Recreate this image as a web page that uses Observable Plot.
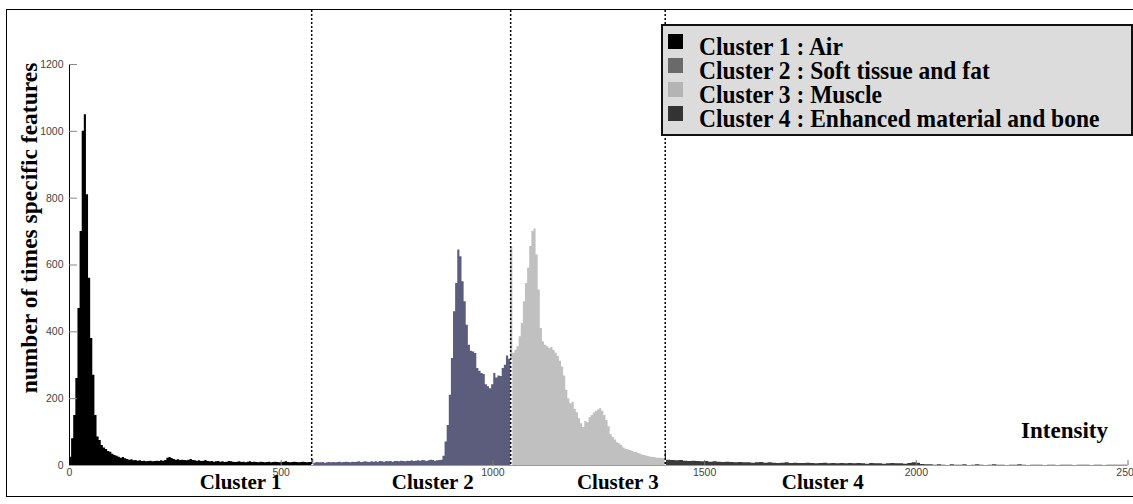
<!DOCTYPE html>
<html><head><meta charset="utf-8">
<script src="https://cdn.jsdelivr.net/npm/d3@7"></script>
<script src="https://cdn.jsdelivr.net/npm/@observablehq/plot@0.6"></script>
<style>
body{margin:0;background:#fff;}
#wrap{position:relative;width:1133px;height:504px;overflow:hidden;}
#frame{position:absolute;left:6px;top:9px;width:1140px;height:486px;border:1.5px solid #000;pointer-events:none;}
#legend{position:absolute;left:661px;top:24px;width:468px;height:108px;background:#dcdcdc;border:2px solid #111;
  font-family:"Liberation Serif","Times New Roman",serif;font-weight:bold;font-size:23.5px;color:#000;}
.row{position:absolute;left:36px;height:23px;line-height:23px;white-space:nowrap;transform:scaleY(1.08);transform-origin:0 50%;}
.sw{position:absolute;left:5px;width:15px;height:15px;}
</style>
</head><body>
<div id="wrap"><div id="chart"></div><div id="legend"></div><div id="frame"></div></div>
<script>
// ---- data ----
const xTicks = [0, 500, 1000, 1500, 2000, 2500];
const yTicks = [0, 200, 400, 600, 800, 1000, 1200];
const clusterNames = ["Cluster 1", "Cluster 2", "Cluster 3", "Cluster 4"];
const legendLabels = ["Cluster 1 : Air", "Cluster 2 : Soft tissue and fat", "Cluster 3 : Muscle", "Cluster 4 : Enhanced material and bone"];
const clusterBounds = [0, 572, 1042, 1407, 2500];
const clusterBinStart = [0, 572, 1042, 1400];
const clusterBinWidth = [5, 5, 5, 10];
const clusterLabelX = [404, 858, 1295, 1779];

const cluster1Counts = [
  25,80,150,260,470,700,1000,1050,810,560,
  380,270,150,85,75,60,52,48,42,40,
  34,30,28,25,22,24,20,18,16,17,
  14,15,13,14,12,13,11,12,13,11,
  12,13,12,14,13,15,22,24,21,18,
  16,17,15,16,15,14,16,18,15,14,
  13,14,12,13,15,12,11,12,10,11,
  12,10,11,9,10,12,11,10,9,10,
  11,9,10,8,10,11,9,10,9,8,
  10,9,8,9,10,8,9,10,9,8,
  9,10,11,9,8,9,10,9,8,9,
  10,9,8,9,9
];
const cluster2Counts = [
  8,7,9,8,8,9,7,8,9,8,
  9,8,9,10,8,9,10,9,8,10,
  9,10,11,9,10,11,10,9,11,10,
  11,10,12,11,10,12,11,12,10,12,
  12,11,13,12,11,13,12,14,12,13,
  14,13,15,14,12,14,16,15,13,14,
  15,
  16,28,70,120,210,320,460,545,
  645,625,550,490,420,360,342,340,335,290,
  282,275,272,242,236,230,242,275,262,268,
  266,290,300,328,318
];
const cluster3Counts = [
  334,336,345,355,385,425,490,545,590,655,
  700,708,630,525,410,370,360,355,350,354,
  344,336,326,312,295,268,225,200,185,189,
  168,158,140,125,114,132,128,143,150,157,
  162,166,170,162,150,135,116,92,84,76,
  68,65,60,52,49,47,45,43,40,39,
  36,34,31,30,28,26,25,24,23,22,
  22,21,20
];
const cluster4Counts = [
  18,16,15,14,15,13,12,13,12,11,
  12,10,11,10,9,10,9,8,9,8,
  8,7,8,9,7,8,7,6,7,8,
  6,7,6,6,7,6,5,6,7,5,
  6,5,6,5,6,5,6,5,4,6,
  5,5,4,5,6,5,5,4,6,8,
  7,3,2,2,1,2,1,0,2,1,
  1,2,0,1,2,1,0,1,2,1,
  1,0,1,1,2,1,0,1,1,1,
  0,1,1,0,1,1,1,0,1,1,
  1,0,1,1,0,1,1,1,1,1
];

// ---- styles ----
const fillColors = ["#000000", "#5c5c7c", "#c0c0c0", "#3a3a3a"];
const legendColors = ["#000000", "#6a6a6a", "#b4b4b4", "#333333"];
const serif = "'Liberation Serif','Times New Roman',serif";
const sans = "'Liberation Sans',Arial,sans-serif";

// ---- step outline per cluster (bin start points + closing point) ----
const allCounts = [cluster1Counts, cluster2Counts, cluster3Counts, cluster4Counts];
const steps = [];
allCounts.forEach((counts, c) => {
  const lo = clusterBounds[c], hi = clusterBounds[c + 1];
  let last = 0;
  counts.forEach((v, i) => {
    let x1 = Math.max(clusterBinStart[c] + i * clusterBinWidth[c], lo);
    if (x1 < hi) { steps.push({cluster: c, x: x1, count: v}); last = v; }
  });
  steps.push({cluster: c, x: hi, count: last});
});

const chart = Plot.plot({
  width: 1133, height: 504,
  marginLeft: 69, marginRight: 5.5, marginTop: 64, marginBottom: 39,
  x: {domain: [0, 2500]},
  y: {domain: [0, 1200]},
  style: {background: "transparent", overflow: "visible"},
  marks: [
    Plot.areaY(steps, {x: "x", y: "count", z: "cluster", fill: d => fillColors[d.cluster], curve: "step-after"}),
    Plot.ruleY([0], {stroke: "#999"}),
    Plot.ruleX([0], {stroke: "#000"}),
    Plot.ruleY(yTicks.slice(1), {y: d => d, x1: 0, x2: 19, stroke: "#888"}),
    Plot.ruleX(xTicks.slice(1), {x: d => d, y1: 0, y2: 15, stroke: "#777"}),
    Plot.axisY({ticks: yTicks, tickSize: 0, tickPadding: 6, tickFormat: d => String(d), label: null, fontSize: 10.5, fontFamily: sans, color: "#444"}),
    Plot.axisX({ticks: xTicks, tickSize: 0, tickPadding: 3, tickFormat: d => String(d), label: null, fontSize: 10.5, fontFamily: sans, color: "#444"}),
    Plot.ruleX(clusterBounds.slice(1, 4), {x: d => d, stroke: "#000", strokeWidth: 1.5, strokeDasharray: "2,2", insetTop: -54}),
    Plot.text(clusterNames, {x: (d, i) => clusterLabelX[i], text: d => d, frameAnchor: "bottom", lineAnchor: "bottom", dy: 23,
      fontSize: 21, fontWeight: "bold", fontFamily: serif, fill: "#000"}),
    Plot.text(["Intensity"], {text: d => d, frameAnchor: "bottom-right", textAnchor: "end", lineAnchor: "bottom", dx: -20, dy: -28,
      fontSize: 23, fontWeight: "bold", fontFamily: serif, fill: "#000"}),
    Plot.text(["number of times specific features"], {text: d => d, frameAnchor: "left", textAnchor: "middle", rotate: -90, lineAnchor: "bottom", dx: -33, dy: -37,
      fontSize: 23.5, fontWeight: "bold", fontFamily: serif, fill: "#000"})
  ]
});
document.getElementById("chart").appendChild(chart);

// ---- legend ----
const legend = document.getElementById("legend");
legendLabels.forEach((label, i) => {
  const sw = document.createElement("div");
  sw.className = "sw";
  sw.style.top = (8 + i * 24) + "px";
  sw.style.background = legendColors[i];
  legend.appendChild(sw);
  const row = document.createElement("div");
  row.className = "row";
  row.style.top = (9 + i * 24) + "px";
  row.textContent = label;
  legend.appendChild(row);
});
</script>
</body></html>
